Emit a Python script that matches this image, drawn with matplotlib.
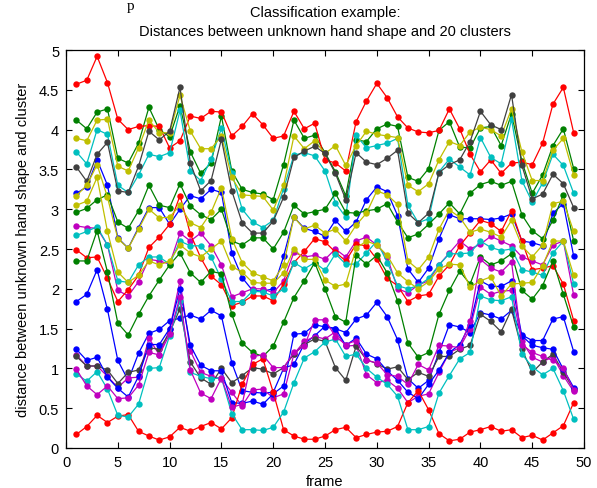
import numpy as np
import matplotlib.pyplot as plt

plt.rcParams['font.family'] = ['Liberation Sans', 'DejaVu Sans']

frames = np.arange(1, 50)

# distances, one list per cluster (MATLAB colour order b g r c m y k)
blue_top = [3.20, 3.28, 3.62, 3.30, 2.64, 2.51, 2.77, 3.02, 3.02, 2.81, 3.00, 3.17, 3.13, 3.25, 3.21, 2.45, 2.14, 1.98, 1.97, 2.00,
            2.41, 2.90, 2.76, 2.72, 2.66, 2.86, 2.72, 2.84, 3.12, 3.28, 3.22, 2.92, 2.25, 2.08, 2.26, 2.63, 2.93, 2.88, 2.88, 2.88,
            2.87, 2.89, 2.94, 2.60, 2.58, 2.54, 2.95, 3.07, 2.41]
green_top = [4.12, 4.01, 4.22, 4.26, 3.64, 3.58, 3.83, 4.28, 4.00, 3.91, 4.30, 3.72, 3.45, 3.58, 4.17, 3.48, 3.25, 3.21, 3.19, 3.12,
             3.56, 4.12, 3.89, 3.93, 3.71, 3.47, 3.17, 3.87, 3.85, 4.01, 4.07, 4.04, 3.40, 3.35, 3.51, 3.99, 4.10, 3.78, 3.77, 4.02,
             4.04, 3.80, 4.20, 3.60, 3.20, 3.43, 3.80, 4.01, 3.51]
red_top = [4.57, 4.62, 4.92, 4.59, 4.13, 4.00, 4.04, 4.05, 4.04, 3.77, 3.86, 4.17, 4.14, 4.23, 4.22, 3.92, 4.04, 4.20, 4.06, 3.89,
           3.92, 4.23, 4.01, 4.08, 3.62, 3.58, 3.48, 4.10, 4.36, 4.58, 4.40, 4.16, 4.02, 3.97, 3.96, 3.99, 4.26, 4.01, 3.69, 3.47,
           3.62, 3.45, 3.58, 3.59, 3.56, 3.83, 4.32, 4.53, 3.96]
cyan_top = [3.72, 3.57, 4.00, 3.94, 3.30, 3.21, 3.43, 3.69, 3.66, 3.71, 4.24, 3.48, 3.36, 3.63, 4.02, 3.46, 3.00, 2.84, 2.77, 2.86,
            3.26, 3.68, 3.71, 3.67, 3.48, 3.08, 2.90, 3.93, 3.77, 3.80, 3.83, 3.89, 3.05, 2.83, 2.88, 3.47, 3.63, 3.53, 3.43, 3.90,
            3.65, 3.57, 4.13, 3.36, 3.09, 3.33, 3.69, 3.55, 3.20]
magenta_mid = [2.79, 2.77, 2.76, 2.55, 1.98, 1.91, 2.09, 2.37, 2.35, 2.31, 2.70, 2.60, 2.70, 2.54, 2.30, 1.90, 1.95, 2.00, 2.00, 1.95,
               2.10, 2.46, 2.40, 2.42, 2.37, 2.50, 2.40, 2.60, 2.65, 2.55, 2.40, 2.00, 1.95, 2.05, 2.10, 2.30, 2.45, 2.60, 2.50, 2.56,
               2.66, 2.60, 2.54, 2.40, 2.35, 2.30, 2.55, 2.60, 1.92]
yellow_top = [3.89, 3.86, 4.12, 4.13, 3.54, 3.48, 3.77, 4.12, 3.96, 3.96, 4.43, 3.98, 3.76, 3.76, 3.92, 3.40, 3.18, 3.17, 3.16, 2.99,
              3.30, 3.92, 3.76, 3.86, 3.70, 3.80, 3.55, 3.80, 3.98, 3.94, 3.92, 3.90, 3.30, 3.22, 3.32, 3.62, 3.85, 3.80, 3.97, 4.03,
              4.00, 3.92, 4.26, 3.72, 3.36, 3.36, 3.74, 3.89, 3.43]
black_top = [3.53, 3.35, 3.69, 3.84, 3.23, 3.21, 3.54, 3.98, 3.87, 3.98, 4.53, 3.58, 3.23, 3.36, 3.88, 3.23, 2.83, 2.70, 2.70, 2.85,
             3.15, 3.65, 3.73, 3.79, 3.70, 3.45, 3.12, 3.71, 3.59, 3.56, 3.64, 3.74, 2.95, 2.83, 2.95, 3.46, 3.56, 3.62, 3.85, 4.23,
             4.06, 4.00, 4.44, 3.55, 3.13, 3.19, 3.44, 3.32, 3.02]
blue_mid = [1.84, 1.93, 2.24, 1.74, 1.10, 0.85, 1.19, 1.44, 1.49, 1.60, 1.63, 1.67, 1.62, 1.73, 1.66, 1.07, 0.72, 0.70, 0.69, 0.70,
            1.00, 1.05, 1.31, 1.41, 1.53, 1.50, 1.45, 1.62, 1.67, 1.83, 1.65, 1.36, 0.87, 0.75, 0.85, 1.20, 1.55, 1.52, 1.45, 1.70,
            1.67, 1.62, 1.73, 1.42, 1.35, 1.35, 1.62, 1.65, 1.21]
green_mid = [2.96, 3.01, 3.12, 3.18, 2.84, 2.76, 2.98, 3.30, 3.05, 3.02, 3.32, 3.04, 2.93, 2.87, 3.00, 2.60, 2.55, 2.64, 2.64, 2.50,
             2.71, 3.05, 2.94, 2.97, 3.00, 3.20, 2.96, 2.95, 2.98, 3.00, 3.07, 2.84, 2.64, 2.69, 2.81, 2.94, 3.08, 2.94, 3.20, 3.31,
             3.35, 3.30, 3.35, 2.93, 2.73, 2.63, 2.86, 3.18, 2.60]
red_mid = [2.49, 2.39, 2.40, 2.13, 1.84, 1.99, 2.17, 2.52, 2.65, 2.81, 3.17, 2.69, 2.39, 2.16, 2.05, 1.79, 1.83, 1.91, 1.91, 1.85,
           2.06, 2.33, 2.47, 2.63, 2.59, 2.46, 2.35, 2.56, 2.54, 2.37, 2.13, 2.04, 1.84, 1.91, 1.93, 2.16, 2.30, 2.54, 2.70, 2.86,
           2.82, 2.72, 2.98, 2.60, 2.24, 2.26, 2.29, 2.06, 1.60]
cyan_mid = [2.67, 2.72, 2.78, 2.55, 2.10, 2.08, 2.30, 2.40, 2.40, 2.31, 2.60, 2.54, 2.54, 2.40, 2.12, 1.84, 1.84, 1.97, 1.96, 1.91,
            2.00, 2.33, 2.25, 2.33, 2.23, 2.44, 2.31, 2.31, 2.45, 2.60, 2.33, 2.04, 2.00, 2.04, 2.13, 2.30, 2.44, 2.44, 2.45, 2.60,
            2.52, 2.48, 2.50, 2.24, 2.21, 2.17, 2.45, 2.60, 2.06]
magenta_low = [1.17, 1.03, 1.03, 0.90, 0.76, 0.88, 0.89, 1.38, 1.17, 1.49, 2.10, 1.22, 0.95, 0.90, 0.87, 0.70, 0.53, 0.73, 0.74, 0.63,
               0.68, 1.18, 1.34, 1.40, 1.37, 1.46, 1.28, 1.29, 0.92, 0.82, 0.85, 0.75, 0.57, 0.65, 0.68, 0.95, 1.20, 1.26, 1.50, 2.02,
               1.93, 1.97, 1.98, 1.34, 1.14, 1.08, 1.15, 0.91, 0.71]
yellow_mid = [3.17, 3.30, 3.56, 3.15, 2.63, 2.51, 2.75, 3.00, 2.89, 2.90, 3.05, 2.83, 2.77, 2.96, 3.27, 2.63, 2.33, 2.20, 2.15, 2.10,
              2.30, 2.90, 2.75, 2.80, 2.70, 2.75, 2.60, 2.80, 2.95, 3.23, 3.18, 3.06, 2.35, 2.24, 2.40, 2.75, 2.99, 2.90, 2.71, 2.75,
              2.71, 2.65, 2.86, 2.54, 2.40, 2.55, 3.07, 3.10, 2.72]
black_low = [1.15, 1.03, 1.03, 0.98, 0.81, 0.95, 0.98, 1.26, 1.24, 1.45, 1.75, 1.08, 0.88, 0.80, 1.00, 0.82, 0.91, 1.01, 0.99, 0.93,
             1.01, 1.18, 1.30, 1.37, 1.34, 1.01, 0.85, 1.28, 1.11, 1.06, 0.99, 1.02, 0.86, 0.95, 0.90, 1.15, 1.15, 1.24, 1.29, 1.68,
             1.59, 1.46, 1.74, 1.24, 0.95, 1.08, 1.18, 0.95, 0.74]
blue_low = [1.24, 1.10, 1.14, 0.89, 0.75, 0.64, 0.90, 1.30, 1.30, 1.50, 2.00, 1.29, 1.04, 0.97, 0.97, 0.57, 0.56, 0.59, 0.55, 0.68,
            0.78, 1.43, 1.44, 1.55, 1.52, 1.50, 1.29, 1.38, 1.18, 1.12, 0.97, 0.85, 0.70, 0.62, 0.80, 0.98, 1.20, 1.30, 1.55, 2.10,
            2.03, 2.03, 2.10, 1.41, 1.29, 1.26, 1.24, 0.99, 0.76]
green_low = [2.35, 2.35, 2.73, 2.21, 1.57, 1.42, 1.68, 1.91, 2.11, 2.30, 2.45, 2.20, 2.08, 2.22, 2.19, 1.68, 1.32, 1.20, 1.15, 1.28,
             1.58, 1.89, 2.10, 2.33, 2.00, 1.65, 1.58, 2.42, 2.31, 2.42, 2.20, 1.85, 1.32, 1.14, 1.20, 1.68, 1.98, 2.22, 2.06, 2.40,
             2.30, 2.35, 2.44, 1.98, 1.87, 2.04, 2.35, 1.93, 1.52]
red_low = [0.17, 0.27, 0.41, 0.32, 0.40, 0.42, 0.21, 0.15, 0.10, 0.14, 0.26, 0.21, 0.27, 0.32, 0.24, 0.38, 0.80, 1.05, 1.12, 0.70,
           0.23, 0.15, 0.11, 0.11, 0.15, 0.23, 0.26, 0.13, 0.17, 0.20, 0.21, 0.27, 0.57, 0.72, 0.48, 0.18, 0.09, 0.11, 0.20, 0.23,
           0.27, 0.21, 0.23, 0.13, 0.16, 0.10, 0.19, 0.28, 0.57]
cyan_low = [0.93, 0.84, 0.96, 0.74, 0.41, 0.39, 0.55, 1.00, 1.01, 1.41, 1.85, 0.95, 0.90, 0.87, 0.88, 0.43, 0.23, 0.23, 0.22, 0.26,
            0.45, 0.82, 1.13, 1.21, 1.33, 1.37, 1.15, 1.18, 1.00, 0.89, 0.80, 0.65, 0.23, 0.23, 0.27, 0.69, 0.91, 1.12, 1.20, 1.91,
            1.86, 1.85, 1.90, 1.18, 1.02, 0.92, 1.00, 0.72, 0.36]
magenta_lower = [0.99, 0.78, 0.67, 0.78, 0.62, 0.63, 0.79, 1.20, 1.17, 1.43, 1.90, 0.98, 0.69, 0.62, 0.88, 0.51, 0.55, 1.15, 1.17, 1.01,
                 1.01, 1.20, 1.28, 1.61, 1.61, 1.40, 1.30, 1.35, 1.10, 1.07, 0.92, 0.90, 0.80, 1.05, 0.98, 1.29, 1.28, 1.26, 1.60, 2.37,
                 2.26, 2.21, 2.34, 1.30, 1.20, 1.15, 1.10, 1.00, 0.73]
yellow_low = [3.05, 3.10, 3.40, 2.72, 2.21, 2.08, 2.17, 2.35, 2.30, 2.35, 2.55, 2.45, 2.40, 2.50, 2.60, 2.28, 2.21, 2.08, 2.07, 2.07,
              2.20, 2.50, 2.37, 2.37, 2.11, 2.03, 2.06, 2.51, 2.60, 2.55, 2.42, 2.20, 2.09, 2.00, 2.09, 2.25, 2.31, 2.30, 2.02, 2.10,
              2.15, 1.91, 2.06, 2.07, 2.08, 2.29, 2.60, 2.60, 2.17]

series = [blue_top, green_top, red_top, cyan_top, magenta_mid, yellow_top, black_top,
          blue_mid, green_mid, red_mid, cyan_mid, magenta_low, yellow_mid, black_low,
          blue_low, green_low, red_low, cyan_low, magenta_lower, yellow_low]
colors = ['#0000ff', '#008000', '#ff0000', '#00bfbf', '#bf00bf', '#bfbf00', '#404040']

fig = plt.figure(figsize=(5.97, 4.89), dpi=100)
ax = fig.add_axes([0.1106, 0.0818, 0.8677, 0.8139])

for i, s in enumerate(series):
    c = colors[i % 7]
    ax.plot(frames, s, '-', color=c, lw=0.9, marker='o', ms=4.6, mew=0, mfc=c)

ax.set_xlim(0, 50)
ax.set_ylim(0, 5)
ax.set_xticks(np.arange(0, 51, 5))
ax.set_yticks(np.arange(0, 5.01, 0.5))
ax.set_yticklabels(['0', '0.5', '1', '1.5', '2', '2.5', '3', '3.5', '4', '4.5', '5'])
ax.tick_params(direction='in', length=4, labelsize=10.5, top=True, right=True, width=0.8, pad=5)
for sp in ax.spines.values():
    sp.set_linewidth(0.9)

ax.set_title('Classification example:\nDistances between unknown hand shape and 20 clusters',
             fontsize=10.5, pad=11, linespacing=1.45)
ax.set_xlabel('frame', fontsize=10.5, labelpad=4)
ax.set_ylabel('distance between unknown hand shape and cluster', fontsize=10.5, labelpad=6)

# stray glyph from the page above the figure
fig.text(0.212, 1.0, 'p', fontsize=11, family='Liberation Serif', va='top', ha='left')

fig.savefig('out.png', dpi=100)
